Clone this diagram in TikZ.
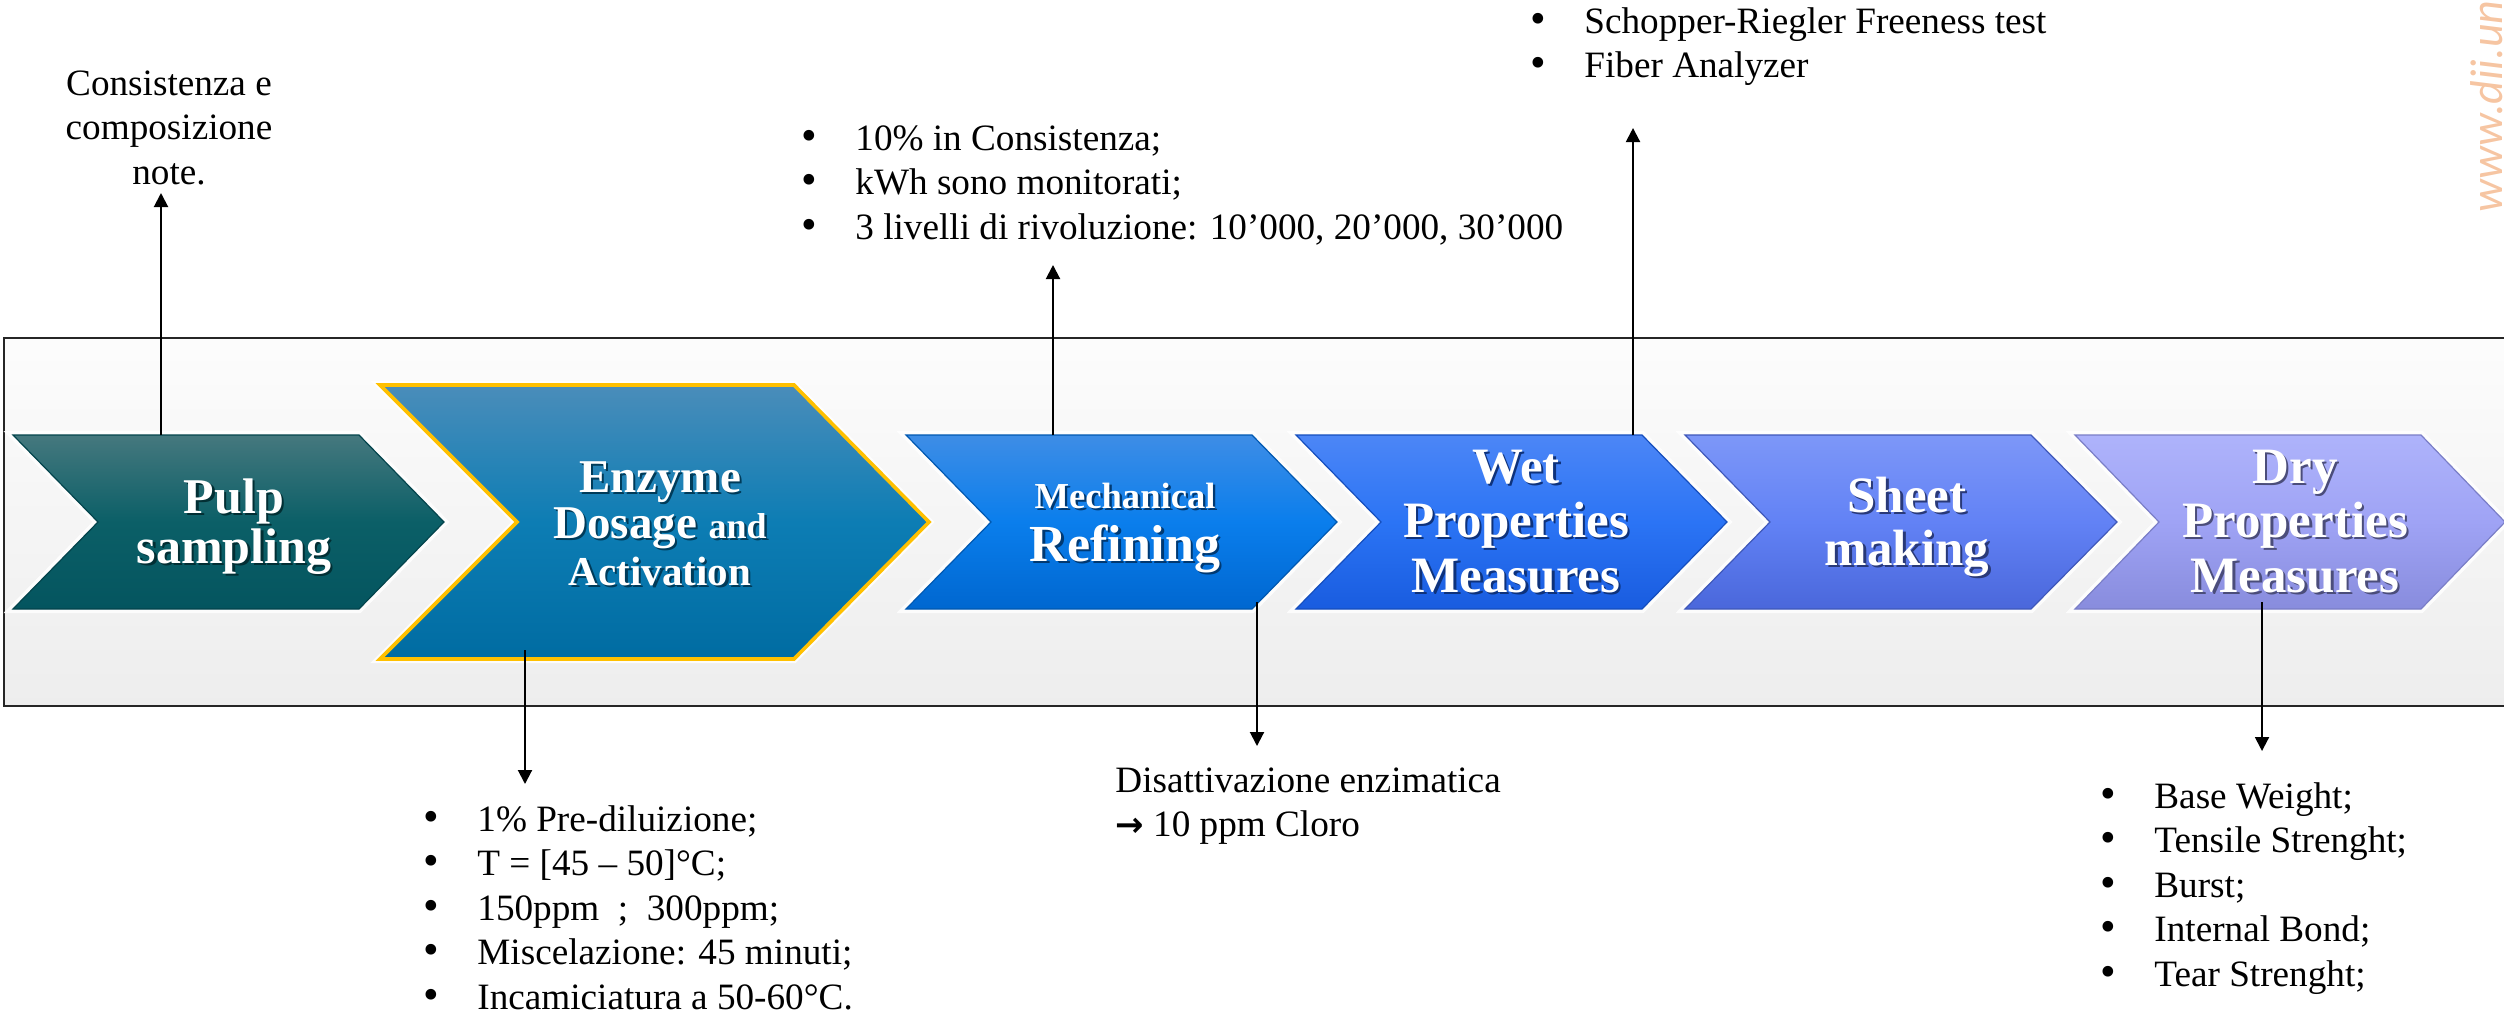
\documentclass[tikz,border=0pt]{standalone}
\usepackage{fontspec}
\setmainfont{Liberation Serif}
\newfontfamily\wmfont{Carlito}
\newfontfamily\symfont{DejaVu Sans}
\usetikzlibrary{arrows.meta}
\definecolor{cat}{HTML}{45787E}\definecolor{cam}{HTML}{0B5F67}\definecolor{cab}{HTML}{04555F}
\definecolor{cbt}{HTML}{4A8DBA}\definecolor{cbm}{HTML}{0D7DB4}\definecolor{cbb}{HTML}{006CA2}
\definecolor{cct}{HTML}{3E8DE6}\definecolor{ccm}{HTML}{0A7EEC}\definecolor{ccb}{HTML}{0067D0}
\definecolor{cdt}{HTML}{4C86F6}\definecolor{cdm}{HTML}{2B74F5}\definecolor{cdb}{HTML}{195CDF}
\definecolor{cet}{HTML}{7D97F8}\definecolor{cem}{HTML}{6282F5}\definecolor{ceb}{HTML}{4A67DB}
\definecolor{cft}{HTML}{AEB3FB}\definecolor{cfm}{HTML}{9FA3F5}\definecolor{cfb}{HTML}{888CDD}
\definecolor{gold}{HTML}{FFC000}
\definecolor{wmcol}{HTML}{F6C5A2}
\newcommand{\shtx}[2]{\rlap{\kern1.2pt\raisebox{-1.2pt}{\textcolor{#1}{#2}}}#2}
\newcommand{\bl}{\makebox[28pt][l]{\kern1pt\smash{\scalebox{1.2}{\textbullet}}}}
\begin{document}
\begin{tikzpicture}[x=0.5pt,y=-0.5pt,
  glow/.style={preaction={draw=white,line width=4pt,opacity=.85}},
  lab/.style={text=white,inner sep=0,anchor=base},
  txt/.style={inner sep=0,font=\fontsize{18.6pt}{22.25pt}\selectfont},
  arr/.style={-{Triangle[width=7pt,length=7pt]},line width=1pt,black}]
\useasboundingbox (0,0) rectangle (2504,1013);
% background band
\draw[line width=1.1pt,draw=black!85,top color=black!1,bottom color=black!7] (4,338) rectangle (2540,706);
% chevrons
\draw[glow,top color=cat,bottom color=cab,middle color=cam,draw=cab!80!black,line width=.6pt]
  (13,435) -- (359,435) -- (444,522) -- (359,609) -- (13,609) -- (98,522) -- cycle;
\draw[glow,top color=cbt,bottom color=cbb,middle color=cbm,draw=gold,line width=1.8pt]
  (380,385) -- (794,385) -- (929,522) -- (794,659) -- (380,659) -- (517,522) -- cycle;
\draw[glow,top color=cct,bottom color=ccb,middle color=ccm,draw=ccb!85!black,line width=.6pt]
  (906,435) -- (1252,435) -- (1337,522) -- (1252,609) -- (906,609) -- (991,522) -- cycle;
\draw[glow,top color=cdt,bottom color=cdb,middle color=cdm,draw=cdb!85!black,line width=.6pt]
  (1296,435) -- (1642,435) -- (1727,522) -- (1642,609) -- (1296,609) -- (1381,522) -- cycle;
\draw[glow,top color=cet,bottom color=ceb,middle color=cem,draw=ceb!85!black,line width=.6pt]
  (1685,435) -- (2031,435) -- (2117,522) -- (2031,609) -- (1685,609) -- (1770,522) -- cycle;
\draw[glow,top color=cft,bottom color=cfb,middle color=cfm,draw=cfb!90!black,line width=.6pt]
  (2075,435) -- (2421,435) -- (2505,522) -- (2421,609) -- (2075,609) -- (2159,522) -- cycle;
% chevron labels
\node[lab,font=\fontsize{25pt}{27pt}\selectfont\bfseries] (pulpA) at (234,513) {\shtx{cab!55!black}{Pulp}};
\node[lab,font=\fontsize{25pt}{27pt}\selectfont\bfseries] (pulpB) at (234,563) {\shtx{cab!55!black}{sampling}};
\node[lab,font=\fontsize{23.5pt}{25pt}\selectfont\bfseries] (enzA) at (660,492) {\shtx{cbb!55!black}{Enzyme}};
\node[lab,font=\bfseries] (enzB) at (660,538) {\shtx{cbb!55!black}{\fontsize{23.5pt}{25pt}\selectfont Dosage \fontsize{18pt}{20pt}\selectfont and}};
\node[lab,font=\fontsize{20.5pt}{22pt}\selectfont\bfseries] (enzC) at (660,585) {\shtx{cbb!55!black}{Activation}};
\node[lab,font=\fontsize{18.3pt}{20pt}\selectfont\bfseries] (mecA) at (1125,508) {\shtx{ccb!55!black}{Mechanical}};
\node[lab,font=\fontsize{26pt}{28pt}\selectfont\bfseries] (mecB) at (1125,561) {\shtx{ccb!55!black}{Refining}};
\node[lab,font=\fontsize{25.5pt}{27pt}\selectfont\bfseries] (wetA) at (1516,483) {\shtx{cdb!55!black}{Wet}};
\node[lab,font=\fontsize{25.5pt}{27pt}\selectfont\bfseries] (wetB) at (1516,537) {\shtx{cdb!55!black}{Properties}};
\node[lab,font=\fontsize{25.5pt}{27pt}\selectfont\bfseries] (wetC) at (1516,592) {\shtx{cdb!55!black}{Measures}};
\node[lab,font=\fontsize{25.5pt}{27pt}\selectfont\bfseries] (shA) at (1907,512) {\shtx{ceb!55!black}{Sheet}};
\node[lab,font=\fontsize{25.5pt}{27pt}\selectfont\bfseries] (shB) at (1907,565) {\shtx{ceb!55!black}{making}};
\node[lab,font=\fontsize{25.5pt}{27pt}\selectfont\bfseries] (dryA) at (2295,483) {\shtx{cfb!55!black}{Dry}};
\node[lab,font=\fontsize{25.5pt}{27pt}\selectfont\bfseries] (dryB) at (2295,537) {\shtx{cfb!55!black}{Properties}};
\node[lab,font=\fontsize{25.5pt}{27pt}\selectfont\bfseries] (dryC) at (2295,592) {\shtx{cfb!55!black}{Measures}};
% text blocks
\node[txt,align=center,anchor=north] (consist) at (169,63.9)
  {\strut Consistenza e\\ \strut composizione\\ \strut note.};
\node[txt,align=left,anchor=north west] (mecL) at (799,118.9)
  {\strut\bl 10\% in Consistenza;\\ \strut\bl kWh sono monitorati;\\ \strut\bl 3 livelli di rivoluzione: 10’000, 20’000, 30’000};
\node[txt,align=left,anchor=north west] (wetL) at (1528,1.9)
  {\strut\bl Schopper-Riegler Freeness test\\ \strut\bl Fiber Analyzer};
\node[txt,align=left,anchor=north west] (enzL) at (421,799.9)
  {\strut\bl 1\% Pre-diluizione;\\ \strut\bl T = [45 – 50]°C;\\ \strut\bl 150ppm~~;~~300ppm;\\ \strut\bl Miscelazione: 45 minuti;\\ \strut\bl Incamiciatura a 50-60°C.};
\node[txt,align=left,anchor=north west] (disL) at (1115,760.9)
  {\strut Disattivazione enzimatica\\ \strut{\symfont\bfseries\fontsize{17pt}{20pt}\selectfont →} 10 ppm Cloro};
\node[txt,align=left,anchor=north west] (dryL) at (2098,776.9)
  {\strut\bl Base Weight;\\ \strut\bl Tensile Strenght;\\ \strut\bl Burst;\\ \strut\bl Internal Bond;\\ \strut\bl Tear Strenght;};
% watermark
\node[inner sep=0,rotate=90,anchor=base west,text=wmcol,font=\wmfont\itshape\fontsize{23pt}{25pt}\selectfont] (wm) at (2502,213) {www.dii.un};
% connectors
\coordinate (pulpS) at (161,435);  \coordinate (pulpE) at (161,193);
\coordinate (enzS)  at (525,650);  \coordinate (enzE)  at (525,784);
\coordinate (mecS)  at (1053,435); \coordinate (mecE)  at (1053,265);
\coordinate (refS)  at (1257,602); \coordinate (refE)  at (1257,746);
\coordinate (wetS)  at (1633,435); \coordinate (wetE)  at (1633,128);
\coordinate (dryS)  at (2262,602); \coordinate (dryE)  at (2262,751);
\draw[arr] (pulpS) -- (pulpE);
\draw[arr] (enzS) -- (enzE);
\draw[arr] (mecS) -- (mecE);
\draw[arr] (refS) -- (refE);
\draw[arr] (wetS) -- (wetE);
\draw[arr] (dryS) -- (dryE);
\end{tikzpicture}
\end{document}
